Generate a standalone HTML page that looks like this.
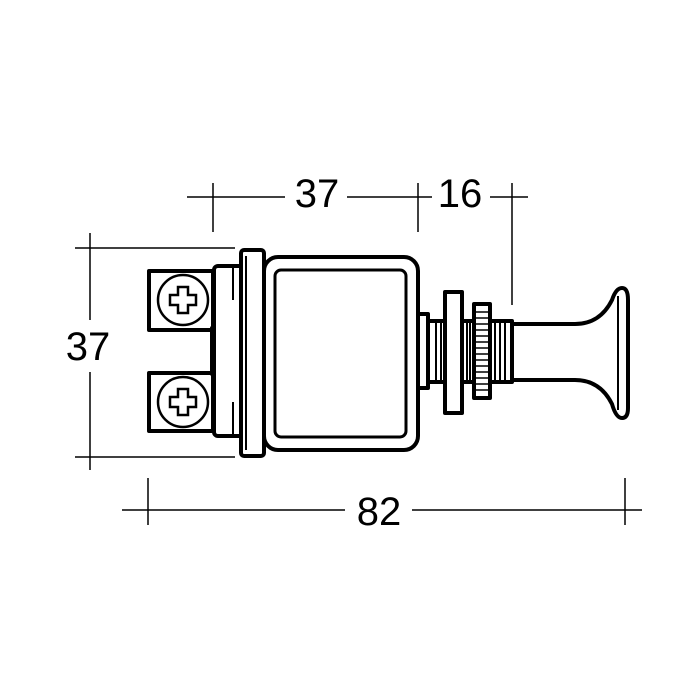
<!DOCTYPE html><html><head><style>body{margin:0;background:#fff}svg{display:block}</style></head><body>
<svg width="700" height="700" viewBox="0 0 700 700" xmlns="http://www.w3.org/2000/svg">
<g stroke="#000" stroke-width="1.5" fill="none">
<line x1="187" y1="197" x2="285" y2="197"/><line x1="347" y1="197" x2="432" y2="197"/><line x1="490" y1="197" x2="528" y2="197"/>
<line x1="213" y1="183" x2="213" y2="232"/><line x1="418" y1="183" x2="418" y2="232"/><line x1="512" y1="183" x2="512" y2="305"/>
<line x1="90" y1="233" x2="90" y2="320"/><line x1="90" y1="372" x2="90" y2="470"/>
<line x1="75" y1="248" x2="235" y2="248"/><line x1="75" y1="457" x2="235" y2="457"/>
<line x1="122" y1="510" x2="345" y2="510"/><line x1="412" y1="510" x2="642" y2="510"/>
<line x1="148" y1="478" x2="148" y2="525"/><line x1="625" y1="478" x2="625" y2="525"/>
</g>
<g font-family="Liberation Sans, sans-serif" font-size="40" text-anchor="middle" fill="#000">
<text x="317" y="207">37</text><text x="460" y="207">16</text><text x="88" y="360">37</text><text x="379" y="525">82</text>
</g>
<g stroke="#000" stroke-width="4" fill="#fff" stroke-linejoin="round">
<rect x="149" y="271" width="64" height="59"/><rect x="149" y="373" width="64" height="58"/>
<rect x="212" y="328" width="8" height="46" fill="#000"/>
<rect x="214" y="266" width="30" height="170" rx="4"/>
<rect x="241" y="250" width="23" height="206" rx="3"/>
<rect x="264" y="257" width="154" height="193" rx="14"/>
<rect x="275" y="270" width="131" height="167" rx="6" stroke-width="3"/>
<rect x="418" y="314" width="10" height="74"/>
<path d="M512 324 L575 324 Q600 324 612 300 Q616 288 622 288 Q628 288 628 300 L628 408 Q628 418 622 418 Q616 418 612 404 Q600 380 575 380 L512 380 Z"/>
<line x1="618" y1="296" x2="618" y2="410" stroke-width="2"/>
<rect x="428" y="321" width="84" height="61"/>
<rect x="445" y="292" width="17" height="121"/>
<rect x="474" y="304" width="16" height="94"/>
</g>
<g stroke="#000" stroke-width="2">
<line x1="436" y1="323" x2="436" y2="380"/><line x1="441" y1="323" x2="441" y2="380"/><line x1="467" y1="323" x2="467" y2="380"/><line x1="470" y1="323" x2="470" y2="380"/><line x1="495" y1="323" x2="495" y2="380"/><line x1="500" y1="323" x2="500" y2="380"/><line x1="505" y1="323" x2="505" y2="380"/>
<line x1="233" y1="266" x2="233" y2="300"/><line x1="233" y1="402" x2="233" y2="436"/><line x1="246" y1="256" x2="246" y2="450"/>
</g>
<g stroke="#000" stroke-width="1.5">
<line x1="476" y1="312" x2="488" y2="312"/><line x1="476" y1="318" x2="488" y2="318"/><line x1="476" y1="324" x2="488" y2="324"/><line x1="476" y1="330" x2="488" y2="330"/><line x1="476" y1="336" x2="488" y2="336"/><line x1="476" y1="342" x2="488" y2="342"/><line x1="476" y1="348" x2="488" y2="348"/><line x1="476" y1="354" x2="488" y2="354"/><line x1="476" y1="360" x2="488" y2="360"/><line x1="476" y1="366" x2="488" y2="366"/><line x1="476" y1="372" x2="488" y2="372"/><line x1="476" y1="378" x2="488" y2="378"/><line x1="476" y1="384" x2="488" y2="384"/><line x1="476" y1="390" x2="488" y2="390"/>
</g>
<g stroke="#000" stroke-width="2.5" fill="#fff">
<circle cx="183" cy="300" r="25"/><circle cx="183" cy="402" r="25"/>
<path d="M178 287h10v8h8v10h-8v8h-10v-8h-8v-10h8z"/>
<path d="M178 389h10v8h8v10h-8v8h-10v-8h-8v-10h8z"/>
</g>
</svg>
</body></html>
